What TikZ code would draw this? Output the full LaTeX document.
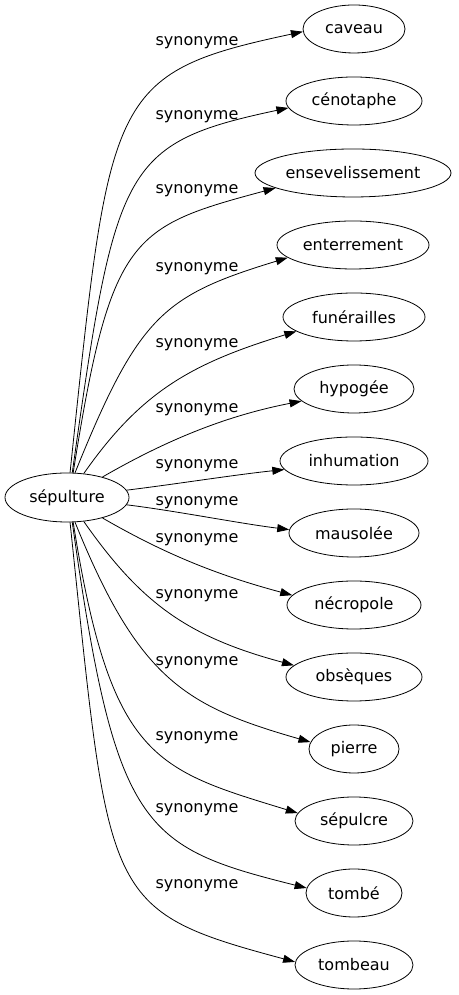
\documentclass[tikz,border=0pt]{standalone}
\usepackage{fontspec}
\setmainfont{DejaVu Sans}
\usetikzlibrary{shapes.geometric,arrows.meta}
\begin{document}
\begin{tikzpicture}[x=1pt,y=1pt,
  word/.style={ellipse,draw,line width=0.8pt,inner sep=0pt,minimum height=48pt,font=\fontsize{16}{19}\selectfont},
  lab/.style={inner sep=0pt,font=\fontsize{16}{19}\selectfont},
  syn/.style={line width=0.8pt,-{Triangle[length=12pt,width=8pt]}}]
\useasboundingbox (0,0) rectangle (458,995);
% nodes
\node[word,minimum width=124pt,minimum height=49pt] (src) at (67,497.5) {sépulture};
\node[word,minimum width=102pt] (caveau) at (354,966) {caveau};
\node[word,minimum width=136pt] (cenotaphe) at (354,894) {cénotaphe};
\node[word,minimum width=196pt] (ensev) at (353,822) {ensevelissement};
\node[word,minimum width=152pt] (enterr) at (353,750) {enterrement};
\node[word,minimum width=142pt] (funer) at (354,678) {funérailles};
\node[word,minimum width=120pt] (hypogee) at (354,606) {hypogée};
\node[word,minimum width=148pt] (inhum) at (354,534) {inhumation};
\node[word,minimum width=130pt] (mausolee) at (354,462) {mausolée};
\node[word,minimum width=134pt] (necro) at (354,390) {nécropole};
\node[word,minimum width=136pt] (obseq) at (354,318) {obsèques};
\node[word,minimum width=90pt] (pierre) at (354,246) {pierre};
\node[word,minimum width=118pt] (sepulcre) at (354,174) {sépulcre};
\node[word,minimum width=96pt] (tombe) at (354,102) {tombé};
\node[word,minimum width=118pt] (tombeau) at (354,30) {tombeau};
% labels
\node[lab] (l1) at (197,952) {synonyme};
\node[lab] (l2) at (197,878) {synonyme};
\node[lab] (l3) at (197,804) {synonyme};
\node[lab] (l4) at (197,726) {synonyme};
\node[lab] (l5) at (197,650) {synonyme};
\node[lab] (l6) at (197,585) {synonyme};
\node[lab] (l7) at (197,529) {synonyme};
\node[lab] (l8) at (197,492) {synonyme};
\node[lab] (l9) at (197,455) {synonyme};
\node[lab] (l10) at (197,399) {synonyme};
\node[lab] (l11) at (197,332) {synonyme};
\node[lab] (l12) at (197,257) {synonyme};
\node[lab] (l13) at (197,185) {synonyme};
\node[lab] (l14) at (197,109) {synonyme};
% edges
\draw[syn] (src.83) to[out=84,in=192,out distance=380pt,in distance=200pt] (caveau.183);
\draw[syn] (src.78) to[out=82,in=192,out distance=310pt,in distance=170pt] (cenotaphe.186);
\draw[syn] (src.76) to[out=81,in=195,out distance=240pt,in distance=150pt] (ensev.191);
\draw[syn] (src.72) to[out=68,in=197,out distance=170pt,in distance=130pt] (enterr.191);
\draw[syn] (src.55) to[out=55,in=197,out distance=100pt,in distance=110pt] (funer.194);
\draw[syn] (src.30) to[out=30,in=191,out distance=70pt,in distance=80pt] (hypogee.193);
\draw[syn] (src.7) to[out=7,in=186,out distance=50pt,in distance=50pt] (inhum.187);
\draw[syn] (src.-7) to[out=-7,in=173,out distance=50pt,in distance=50pt] (mausolee.177);
\draw[syn] (src.-30) to[out=-30,in=165,out distance=70pt,in distance=80pt] (necro.171);
\draw[syn] (src.-55) to[out=-55,in=165,out distance=100pt,in distance=110pt] (obseq.169);
\draw[syn] (src.-72) to[out=-68,in=164,out distance=170pt,in distance=130pt] (pierre.171);
\draw[syn] (src.-76) to[out=-81,in=163,out distance=240pt,in distance=150pt] (sepulcre.172);
\draw[syn] (src.-78) to[out=-82,in=166,out distance=310pt,in distance=170pt] (tombe.174);
\draw[syn] (src.-83) to[out=-84,in=165,out distance=380pt,in distance=200pt] (tombeau.177);
\end{tikzpicture}
\end{document}
